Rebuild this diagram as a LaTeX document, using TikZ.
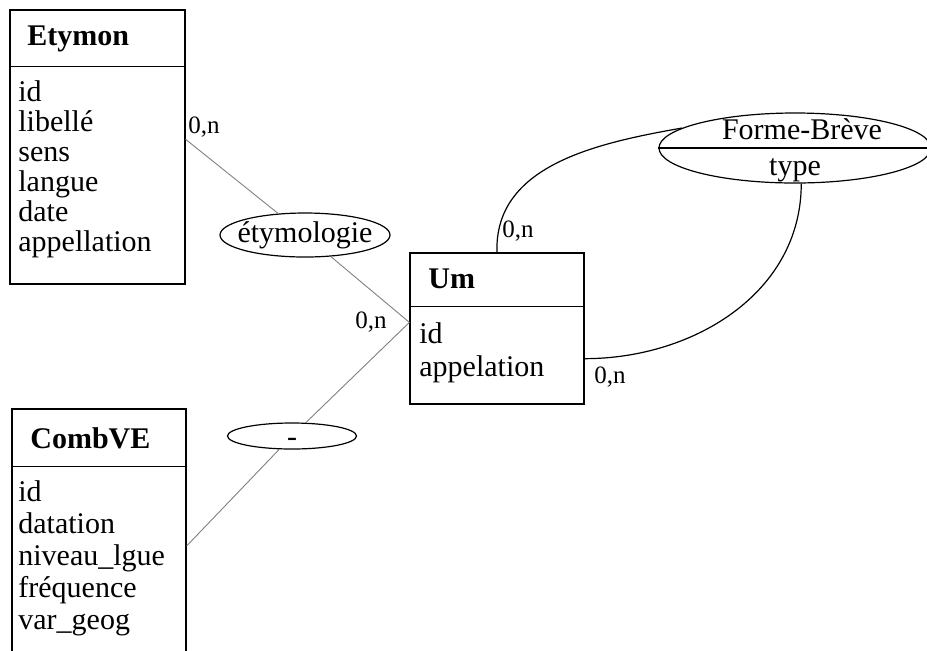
\documentclass[tikz,border=0pt]{standalone}
\usepackage{fontspec}
\setmainfont{Liberation Serif}
\usetikzlibrary{shapes.geometric}
\tikzset{
  entity/.style={draw, line width=0.6pt, rectangle, inner sep=0pt, minimum width=87pt, minimum height=137pt},
  title/.style={anchor=base west, inner sep=0pt, font=\fontsize{15}{15}\selectfont\bfseries},
  attrs/.style={anchor=north west, inner sep=0pt, align=left, font=\fontsize{15}{15}\selectfont},
  assoc/.style={draw, ellipse, inner sep=0pt, line width=0.6pt, font=\fontsize{15}{15}\selectfont},
  card/.style={anchor=base west, inner sep=0pt, font=\fontsize{12.5}{12.5}\selectfont},
  link/.style={draw=gray, line width=0.45pt},
  arc/.style={draw, line width=0.6pt}
}
\begin{document}
\begin{tikzpicture}[x=0.5pt, y=-0.5pt]
  \useasboundingbox (0,0) rectangle (927,650);
  \clip (0,0) rectangle (927,650);

  \node[entity, minimum width=87.5pt](etymon) at (97.5,147){};
  \draw[line width=0.6pt] ([yshift=-28.5pt]etymon.north west) -- ([yshift=-28.5pt]etymon.north east);
  \node[title](etymontitle) at (27,45){Etymon};
  \node[attrs](etymonattrs) at (18,80){id\\libellé\\sens\\langue\\date\\appellation};

  \node[entity, minimum height=75.5pt](um) at (497,328.5){};
  \draw[line width=0.6pt] ([yshift=-27pt]um.north west) -- ([yshift=-27pt]um.north east);
  \node[title](umtitle) at (428,288){Um};
  \node[attrs, font=\fontsize{15}{16.5}\selectfont](umattrs) at (419,322){id\\appelation};

  \node[entity](combve) at (99,546){};
  \draw[line width=0.6pt] ([yshift=-29pt]combve.north west) -- ([yshift=-29pt]combve.north east);
  \node[title](combvetitle) at (30,448){CombVE};
  \node[attrs, font=\fontsize{15}{16}\selectfont](combveattrs) at (18,480){id\\datation\\niveau\_lgue\\fréquence\\var\_geog};

  \node[assoc, inner xsep=-5pt, inner ysep=0.5pt, minimum width=85pt, minimum height=22pt](etym) at (305,235){étymologie};
  \node[assoc, minimum width=64.5pt, minimum height=13pt](dash) at (292,436){\smash{\raisebox{-5pt}{-}}};
  \node[assoc, minimum width=136pt, minimum height=35pt](fb) at (795,148){};
  \draw[line width=0.6pt] (fb.west) -- (fb.east);
  \node[anchor=base, inner sep=0pt, font=\fontsize{15}{15}\selectfont](fbname) at (802,139){Forme-Brève};
  \node[anchor=base, inner sep=0pt, font=\fontsize{15}{15}\selectfont](fbtype) at (795,175){type};

  \draw[link] (etymon.5) -- (etym) -- (um.176);
  \draw[link] (um.176) -- (dash) -- (combve.east);
  \draw[arc] (um.north) to[out=92, in=190] (fb.170);
  \draw[arc] (um.-19) to[out=0, in=-90] (fb.-80);

  \node[card](cardetym) at (188,133){0,n};
  \node[card](cardumleft) at (355,328){0,n};
  \node[card](cardumtop) at (502,237){0,n};
  \node[card](cardumright) at (594,383){0,n};
\end{tikzpicture}
\end{document}
